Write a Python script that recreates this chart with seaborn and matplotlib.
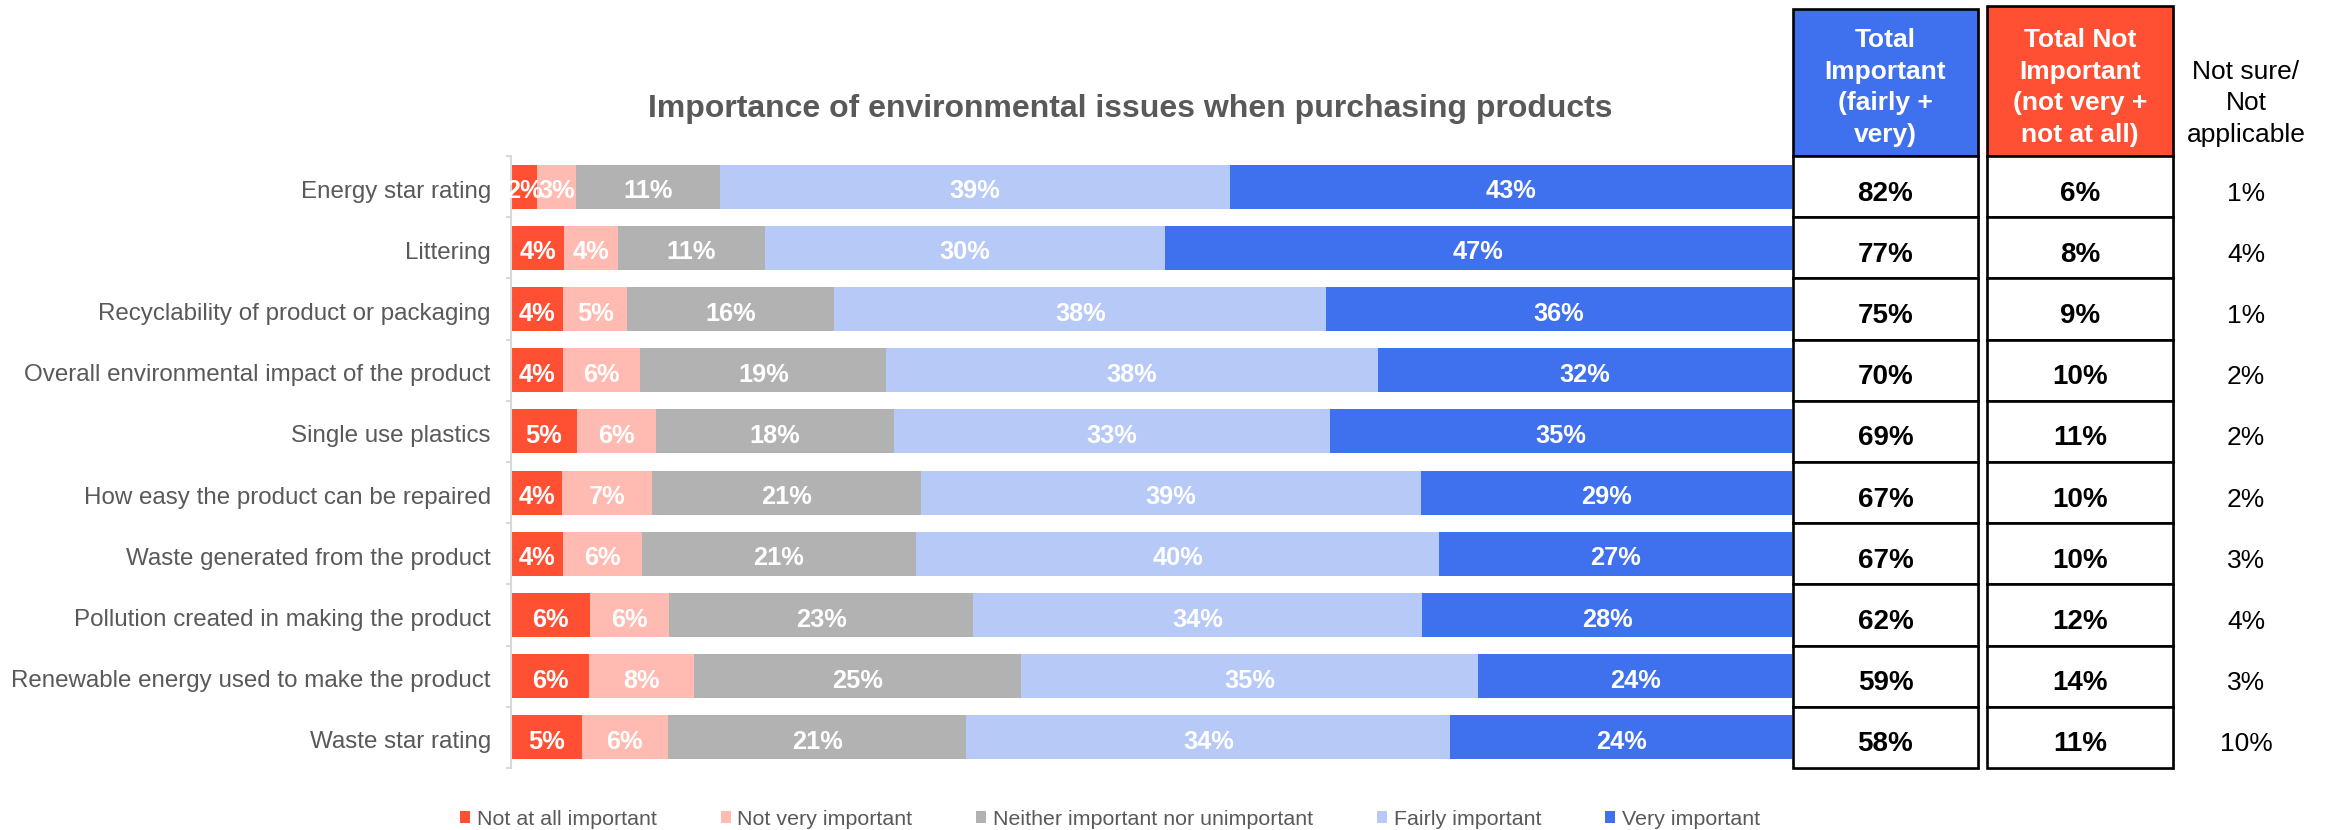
import numpy as np
import matplotlib
matplotlib.use("Agg")
import matplotlib.pyplot as plt
import seaborn as sns
from matplotlib.patches import Rectangle, Patch
from matplotlib.transforms import ScaledTranslation

# ---- data -------------------------------------------------------------
items = [
    "Energy star rating",
    "Littering",
    "Recyclability of product or packaging",
    "Overall environmental impact of the product",
    "Single use plastics",
    "How easy the product can be repaired",
    "Waste generated from the product",
    "Pollution created in making the product",
    "Renewable energy used to make the product",
    "Waste star rating",
]
levels = [
    "Not at all important",
    "Not very important",
    "Neither important nor unimportant",
    "Fairly important",
    "Very important",
]
not_at_all = [2, 4, 4, 4, 5, 4, 4, 6, 6, 5]
not_very = [3, 4, 5, 6, 6, 7, 6, 6, 8, 6]
neither = [11, 11, 16, 19, 18, 21, 21, 23, 25, 21]
fairly = [39, 30, 38, 38, 33, 39, 40, 34, 35, 34]
very = [43, 47, 36, 32, 35, 29, 27, 28, 24, 24]
total_important = [82, 77, 75, 70, 69, 67, 67, 62, 59, 58]
total_not_important = [6, 8, 9, 10, 11, 10, 10, 12, 14, 11]
not_sure = [1, 4, 1, 2, 2, 2, 3, 4, 3, 10]

colors = ["#FF5034", "#FFBAB1", "#B2B2B2", "#B7C9F7", "#3F70EE"]
GREY_TEXT = "#595959"

# ---- figure setup -----------------------------------------------------
sns.set_theme(style="white")
plt.rcParams["font.family"] = ["Liberation Sans", "DejaVu Sans"]

W, H, DPI = 2328, 830, 100
fig = plt.figure(figsize=(W / DPI, H / DPI), dpi=DPI)
fig.patch.set_facecolor("white")

AX_L, AX_R, AX_T, AX_B = 511, 1792, 156, 768
ax = fig.add_axes([AX_L / W, 1 - AX_B / H, (AX_R - AX_L) / W, (AX_B - AX_T) / H])

# ---- 100% stacked bars (cumulative layers, widest first) ---------------
values = np.array([not_at_all, not_very, neither, fairly, very], dtype=float)
shares = values / values.sum(axis=0)
cum = shares.cumsum(axis=0)

for k in reversed(range(len(levels))):
    sns.barplot(x=cum[k], y=items, order=items, orient="h", color=colors[k],
                saturation=1, width=0.72, errorbar=None, linewidth=0,
                edgecolor="none", ax=ax)

for k in range(len(levels)):
    for i in range(len(items)):
        ax.text(cum[k, i] - shares[k, i] / 2, i + 0.19, f"{values[k, i]:.0f}%",
                ha="center", va="baseline", color="white", fontsize=18.3,
                fontweight="bold")

ax.set_xlim(0, 1)
ax.set_ylim(len(items) - 0.5, -0.5)
ax.set_xticks([])
ax.set_xlabel("")
ax.set_ylabel("")
for side in ("top", "right", "bottom"):
    ax.spines[side].set_visible(False)
ax.spines["left"].set_color("#D9D9D9")
ax.spines["left"].set_linewidth(1.5)
ax.set_yticks(np.arange(-0.5, len(items), 1.0), minor=True)
ax.tick_params(axis="y", which="major", length=0, pad=14.5,
               labelsize=17.4, labelcolor=GREY_TEXT)
ax.tick_params(axis="y", which="minor", left=True, length=3.5, width=1.5,
               color="#D9D9D9", direction="out")
shift = ScaledTranslation(0, -2.5 / DPI, fig.dpi_scale_trans)
for lbl in ax.get_yticklabels():
    lbl.set_transform(lbl.get_transform() + shift)

# ---- title --------------------------------------------------------------
ov = fig.add_axes([0, 0, 1, 1])
ov.set_xlim(0, W)
ov.set_ylim(H, 0)
ov.axis("off")
ov.patch.set_alpha(0)

ov.text(1130, 117, "Importance of environmental issues when purchasing products",
        ha="center", va="baseline", fontsize=23, fontweight="bold",
        color=GREY_TEXT)

# ---- summary table --------------------------------------------------------
pitch = (AX_B - AX_T) / len(items)
cols = [
    dict(x0=1793, x1=1978, top=9, fill=colors[4], vals=total_important,
         head=["Total", "Important", "(fairly +", "very)"]),
    dict(x0=1987, x1=2173, top=6, fill=colors[0], vals=total_not_important,
         head=["Total Not", "Important", "(not very +", "not at all)"]),
]
LW = 1.9
head_baselines = [47, 79, 110, 142]
for c in cols:
    w = c["x1"] - c["x0"]
    xc = (c["x0"] + c["x1"]) / 2
    # header box with soft shadow
    ov.add_patch(Rectangle((c["x0"] + 2, c["top"] + 2), w, AX_T - c["top"],
                           facecolor="#C8C8C8", edgecolor="none", zorder=1))
    ov.add_patch(Rectangle((c["x0"], c["top"]), w, AX_T - c["top"],
                           facecolor=c["fill"], edgecolor="black", lw=LW,
                           zorder=2))
    for line, yb in zip(c["head"], head_baselines):
        ov.text(xc, yb, line, ha="center", va="baseline", color="white",
                fontsize=19, fontweight="bold", zorder=3)
    for i, v in enumerate(c["vals"]):
        y0 = AX_T + pitch * i
        ov.add_patch(Rectangle((c["x0"] + 2, y0 + 2), w, pitch,
                               facecolor="#C8C8C8", edgecolor="none", zorder=1))
        ov.add_patch(Rectangle((c["x0"], y0), w, pitch, facecolor="white",
                               edgecolor="black", lw=LW, zorder=2))
        ov.text(xc, y0 + 44.5, f"{v}%", ha="center", va="baseline",
                color="black", fontsize=20, fontweight="bold", zorder=3)

for line, yb in zip(["Not sure/", "Not", "applicable"], [79, 110, 142]):
    ov.text(2246, yb, line, ha="center", va="baseline", color="black",
            fontsize=19)
for i, v in enumerate(not_sure):
    ov.text(2246, AX_T + pitch * i + 44.5, f"{v}%", ha="center",
            va="baseline", color="black", fontsize=19)

# ---- legend -------------------------------------------------------------
handles = [Patch(facecolor=c, edgecolor="none") for c in colors]
fig.legend(handles, levels, loc="center", bbox_to_anchor=(1110 / W, 1 - 819 / H),
           ncol=5, frameon=False, fontsize=15.4, handlelength=0.47,
           handleheight=0.5, handletextpad=0.3, columnspacing=3.0,
           labelcolor=GREY_TEXT, borderaxespad=0, borderpad=0)

fig.savefig("out.png", dpi=DPI, facecolor="white")
